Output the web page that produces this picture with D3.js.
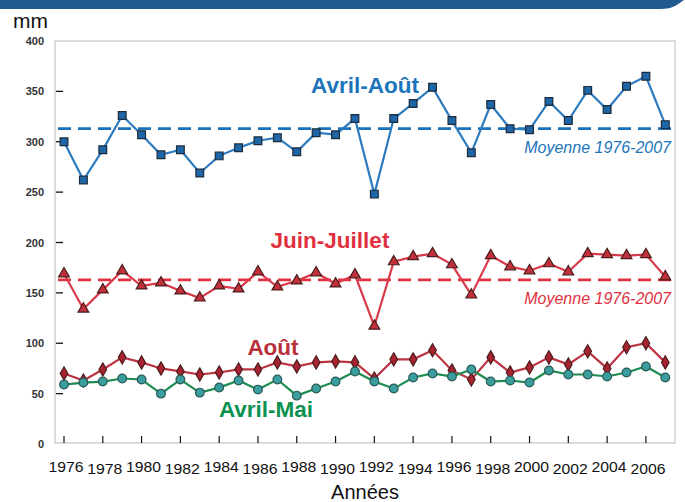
<!DOCTYPE html>
<html>
<head>
<meta charset="utf-8">
<script src="https://cdn.jsdelivr.net/npm/d3@7"></script>
<style>
  body { margin: 0; background: #fff; }
  svg { font-family: "Liberation Sans", Arial, sans-serif; }
</style>
</head>
<body>
<div class="canvas"></div>
<script>
const dims = { width: 685, height: 502, left: 55, right: 675, top: 41, bottom: 443 };

const years = d3.range(1976, 2008);
const yTicks = [0, 50, 100, 150, 200, 250, 300, 350, 400];
const xTickYears = d3.range(1976, 2007, 2);

const avrilAout = [300, 262, 292, 326, 307, 287, 292, 269, 286, 294, 301, 304, 290, 309, 307, 323,
    248, 323, 338, 354, 321, 289, 337, 313, 312, 340, 321, 351, 332, 355, 365, 317];
const juinJuillet = [169, 134, 153, 172, 157, 160, 152, 145, 157, 154, 171, 156, 162, 170, 159, 168,
    117, 181, 186, 189, 178, 148, 187, 176, 172, 179, 171, 189, 188, 187, 188, 166];
const aout = [70, 63, 74, 86, 81, 75, 72, 69, 71, 74, 74, 81, 77, 81, 82, 81,
    65, 84, 84, 93, 73, 64, 86, 71, 76, 86, 79, 92, 75, 96, 100, 81];
const avrilMai = [59, 61, 62, 65, 64, 50, 64, 51, 56, 63, 54, 64, 48, 55, 62, 72,
    62, 55, 66, 70, 67, 74, 62, 63, 61, 73, 69, 69, 67, 71, 77, 66];
const moyenneAvrilAout = 313;
const moyenneJuinJuillet = 163;

const series = [
    { name: 'Avril-Août', values: avrilAout, line: '#2d7bbf', fill: '#1f66a8', stroke: '#1c2b3a',
      symbol: d3.symbolSquare, size: 60, label: { x: 365, y: 93 }, labelColour: '#1b74ba' },
    { name: 'Juin-Juillet', values: juinJuillet, line: '#d93a4a', fill: '#c2303c', stroke: '#4a1c1c',
      symbol: d3.symbolTriangle, size: 50, label: { x: 330, y: 248 }, labelColour: '#e0303f' },
    { name: 'Août', values: aout, line: '#bc3442', fill: '#a82230', stroke: '#4a1c1c',
      symbol: d3.symbolDiamond, size: 50, label: { x: 273, y: 355 }, labelColour: '#b8303a' },
    { name: 'Avril-Mai', values: avrilMai, line: '#1f8c52', fill: '#3a9e9c', stroke: '#2a5a58',
      symbol: d3.symbolCircle, size: 60, label: { x: 266, y: 417 }, labelColour: '#0b9150' }
];

const means = [
    { value: moyenneAvrilAout, colour: '#1b72b8', textColour: '#1b74ba', textY: 153 },
    { value: moyenneJuinJuillet, colour: '#e2323f', textColour: '#e0303f', textY: 304 }
];

const svg = d3.select('.canvas')
    .append('svg')
    .attr('width', dims.width)
    .attr('height', dims.height);

const x = d3.scaleLinear().domain([1976, 2007]).range([64, 665.3]);
const y = d3.scaleLinear().domain([0, 400]).range([444, 41]);

// top banner
svg.append('path')
    .attr('d', 'M0,0 H684 C678,4 674,9 660,9 H0 Z')
    .attr('fill', '#1e5a8e');

svg.append('text')
    .attr('x', 13).attr('y', 28)
    .attr('font-size', 21)
    .attr('fill', '#111')
    .text('mm');

// frame
svg.append('rect')
    .attr('x', dims.left).attr('y', dims.top)
    .attr('width', dims.right - dims.left)
    .attr('height', dims.bottom - dims.top)
    .attr('fill', 'none')
    .attr('stroke', '#cfcfcf')
    .attr('stroke-width', 1.5);

// y axis
const yAxis = svg.append('g');
yAxis.selectAll('line')
    .data(yTicks.filter(d => d > 0 && d < 400))
    .enter().append('line')
    .attr('x1', dims.left + 1).attr('x2', dims.left + 8)
    .attr('y1', d => y(d)).attr('y2', d => y(d))
    .attr('stroke', '#111').attr('stroke-width', 1.3);
yAxis.selectAll('text')
    .data(yTicks)
    .enter().append('text')
    .attr('x', 44)
    .attr('y', d => y(d) + 4)
    .attr('text-anchor', 'end')
    .attr('font-size', 11)
    .attr('font-weight', 'bold')
    .attr('fill', '#333')
    .text(d => d);

// x axis
const xAxis = svg.append('g');
xAxis.selectAll('line')
    .data(xTickYears)
    .enter().append('line')
    .attr('x1', d => x(d)).attr('x2', d => x(d))
    .attr('y1', dims.bottom - 7).attr('y2', dims.bottom)
    .attr('stroke', '#111').attr('stroke-width', 1.2);
xAxis.selectAll('text')
    .data(xTickYears)
    .enter().append('text')
    .attr('x', d => x(d) + 2)
    .attr('y', (d, i) => 472 + (i % 2) * 1.5)
    .attr('text-anchor', 'middle')
    .attr('font-size', 15)
    .attr('textLength', 35)
    .attr('lengthAdjust', 'spacingAndGlyphs')
    .attr('fill', '#111')
    .text(d => d);

svg.append('text')
    .attr('x', 365).attr('y', 499)
    .attr('text-anchor', 'middle')
    .attr('font-size', 20)
    .attr('fill', '#111')
    .text('Années');

// mean lines
means.forEach(m => {
    svg.append('line')
        .attr('x1', dims.left + 3).attr('x2', dims.right)
        .attr('y1', y(m.value)).attr('y2', y(m.value))
        .attr('stroke', m.colour)
        .attr('stroke-width', 2.8)
        .attr('stroke-dasharray', '13,7');
    svg.append('text')
        .attr('x', 671).attr('y', m.textY)
        .attr('text-anchor', 'end')
        .attr('font-size', 16)
        .attr('font-style', 'italic')
        .attr('fill', m.textColour)
        .text('Moyenne 1976-2007');
});

const line = d3.line()
    .x((d, i) => x(years[i]))
    .y(d => y(d));

series.forEach(s => {
    const g = svg.append('g');
    g.append('path')
        .attr('d', line(s.values))
        .attr('fill', 'none')
        .attr('stroke', s.line)
        .attr('stroke-width', 2.2);
    g.selectAll('path.marker')
        .data(s.values)
        .enter().append('path')
        .attr('class', 'marker')
        .attr('transform', (d, i) => `translate(${x(years[i])},${y(d)})`)
        .attr('d', d3.symbol().type(s.symbol).size(s.size))
        .attr('fill', s.fill)
        .attr('stroke', s.stroke)
        .attr('stroke-width', 1.2);
    svg.append('text')
        .attr('x', s.label.x).attr('y', s.label.y)
        .attr('text-anchor', 'middle')
        .attr('font-size', 22.5)
        .attr('font-weight', 'bold')
        .attr('fill', s.labelColour)
        .text(s.name);
});
</script>
</body>
</html>
